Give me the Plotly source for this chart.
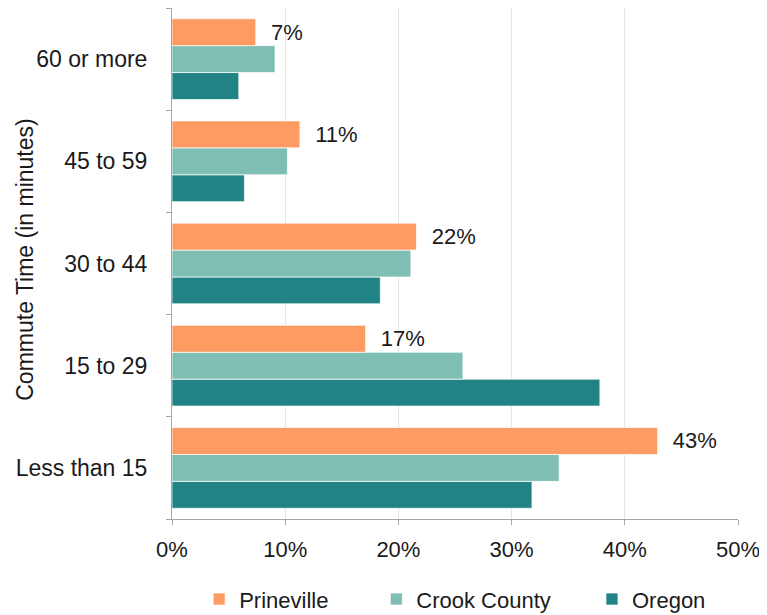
import plotly.graph_objects as go

# Commute time categories, bottom to top
categories = ["Less than 15", "15 to 29", "30 to 44", "45 to 59", "60 or more"]

# Share of workers (%) by commute time
prineville = [42.9, 17.1, 21.6, 11.3, 7.4]
crook_county = [34.2, 25.7, 21.1, 10.2, 9.1]
oregon = [31.8, 37.8, 18.4, 6.4, 5.9]

x_ticks = [0, 10, 20, 30, 40, 50]
x_tick_labels = [f"{v}%" for v in x_ticks]

colors = {
    "Prineville": "#FE9B63",
    "Crook County": "#7FBEB3",
    "Oregon": "#218385",
}

font = "Liberation Sans, Arial, sans-serif"
ink = "#1a1a1a"

fig = go.Figure()

# Oregon first so it sits at the bottom of each group
series = [
    ("Oregon", oregon, "legend3"),
    ("Crook County", crook_county, "legend2"),
    ("Prineville", prineville, "legend"),
]

for name, values, leg in series:
    show_text = name == "Prineville"
    fig.add_trace(go.Bar(
        y=categories,
        x=values,
        name=name,
        orientation="h",
        marker=dict(color=colors[name],
                    line=dict(color="rgba(255,255,255,0.7)", width=1)),
        text=[f"{round(v)}%" for v in values] if show_text else None,
        texttemplate="\u00a0\u00a0%{text}" if show_text else None,
        textposition="outside" if show_text else "none",
        textfont=dict(family=font, size=22, color=ink),
        constraintext="none",
        cliponaxis=False,
        legend=leg,
        showlegend=True,
        hoverinfo="x+name",
    ))

legend_style = dict(
    orientation="h",
    yanchor="middle",
    y=-0.157,
    xanchor="left",
    font=dict(family=font, size=22, color=ink),
    bgcolor="rgba(0,0,0,0)",
    itemwidth=30,
)

# the page body adds an 8px margin, so the figure is drawn 8px smaller
fig.update_layout(
    width=759,
    height=607,
    showlegend=True,
    barmode="group",
    bargap=0.21,
    bargroupgap=0,
    plot_bgcolor="white",
    paper_bgcolor="white",
    margin=dict(l=164, r=29, t=0, b=96, autoexpand=False),
    legend=dict(x=0.048, **legend_style),
    legend2=dict(x=0.361, **legend_style),
    legend3=dict(x=0.742, **legend_style),
    xaxis=dict(
        range=[0, 50],
        tickvals=x_ticks,
        ticktext=x_tick_labels,
        showgrid=True,
        gridcolor="#E4E4E4",
        gridwidth=1,
        zeroline=False,
        showline=True,
        linecolor="#A6A6A6",
        linewidth=1,
        ticks="outside",
        ticklen=5,
        tickcolor="#A6A6A6",
        tickfont=dict(family=font, size=22, color=ink),
        ticklabelstandoff=6,
        automargin=False,
    ),
    yaxis=dict(
        categoryorder="array",
        categoryarray=categories,
        showline=True,
        linecolor="#A6A6A6",
        linewidth=1,
        ticks="outside",
        tickson="boundaries",
        ticklen=5,
        tickcolor="#A6A6A6",
        showgrid=False,
        tickfont=dict(family=font, size=23, color=ink),
        ticklabelstandoff=19,
        automargin=False,
    ),
)

# axis title as an annotation so it can sit where the original has it
fig.add_annotation(
    text="Commute Time (in minutes)",
    xref="paper", yref="paper",
    x=-0.26, y=0.507,
    xanchor="center", yanchor="middle",
    textangle=-90,
    showarrow=False,
    font=dict(family=font, size=23, color=ink),
)

fig.write_html("out.html")
